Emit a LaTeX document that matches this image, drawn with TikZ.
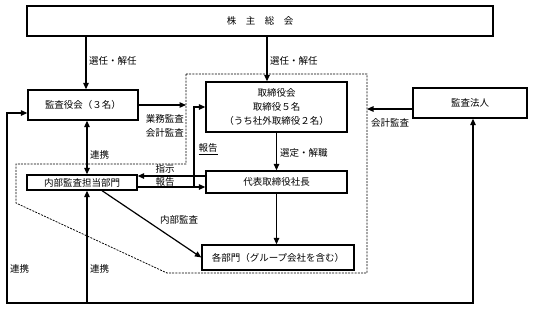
\documentclass[tikz,border=0pt]{standalone}
\usepackage{fontspec}
\setmainfont{Noto Sans CJK JP}
\usetikzlibrary{arrows.meta,calc}
\begin{document}
\begin{tikzpicture}[x=1pt,y=-1pt,
  font=\fontsize{9.5}{14}\selectfont,
  box/.style={draw,line width=1.3pt,inner sep=0pt,align=center},
  arr/.style={line width=1.2pt,-{Triangle[length=6.5pt,width=5.5pt]}},
  dbl/.style={line width=1.2pt,{Triangle[length=6.5pt,width=5.5pt]}-{Triangle[length=6.5pt,width=5.5pt]}},
  dsh/.style={line width=0.75pt,dash pattern=on 2pt off 1.2pt},
  lbl/.style={inner sep=0pt}]
\useasboundingbox (0,0) rectangle (533,309);
% boxes
\node[box,minimum width=466pt,minimum height=30pt] (agm) at (260,21) {株　主　総　会};
\node[box,minimum width=110pt,minimum height=30pt] (kansa) at (83,105) {監査役会（３名）};
\node[box,minimum width=141pt,minimum height=50pt] (board) at (276.5,107) {取締役会\\取締役５名\\（うち社外取締役２名）};
\node[box,minimum width=114pt,minimum height=30pt] (houjin) at (470,103) {監査法人};
\node[box,minimum width=110pt,minimum height=15pt] (naibu) at (82,182.5) {内部監査担当部門};
\node[box,minimum width=141pt,minimum height=22pt] (ceo) at (276.5,182) {代表取締役社長};
\node[box,minimum width=152pt,minimum height=25pt] (depts) at (278,257.5) {各部門（グループ会社を含む）};
% dashed region
\draw[dsh] (186,74) -- (367,74) -- (367,273) -- (167,273) -- (16,203) -- (16,164) -- (186,164) -- cycle;
% helper coordinates
\coordinate (xA) at (86,0);
\coordinate (xB) at (267,0);
\coordinate (xL) at (87,0);
\coordinate (xR) at (473,0);
\coordinate (dL) at (186,105);
\coordinate (dR) at (367,109);
\coordinate (br) at (194,187);
\coordinate (bj) at (87,303);
\coordinate (bl) at (7,303);
% arrows
\draw[arr] (agm.south -| xA) -- (kansa.north -| xA);
\draw[arr] (agm.south -| xB) -- (board.north -| xB);
\draw[arr] (kansa.east) -- (dL);
\draw[arr] (houjin.west |- dR) -- (dR);
\draw[dbl] (kansa.south -| xL) -- (naibu.north -| xL);
\draw[arr] (board.south) -- (ceo.north);
\draw[arr] (ceo.south) -- (depts.north -| ceo.south);
\draw[arr] ([yshift=6pt]ceo.west) -- ([yshift=6pt]ceo.west -| naibu.east);
\draw[arr] ([yshift=-4.5pt]naibu.east) -- ([yshift=-4.5pt]naibu.east -| ceo.west);
\draw[arr] (br) |- (board.west);
\draw[arr] ([xshift=20pt]naibu.south) -- (depts.west);
\draw[arr] (bj) -- (naibu.south -| bj);
\draw[arr] (bj) -- (bl) |- ([yshift=-8pt]kansa.west);
\draw[arr] (bj) -| (houjin.south -| xR);
% labels
\node[lbl,anchor=west] (l1) at (89,61) {選任・解任};
\node[lbl,anchor=west] (l2) at (270,61) {選任・解任};
\node[lbl,anchor=east,align=right] (l3) at (184,126) {業務監査\\会計監査};
\node[lbl,anchor=west] (l4) at (371,123) {会計監査};
\node[lbl,anchor=west] (l5) at (90,155) {連携};
\node[lbl] (l6) at (208,149) {\underline{報告}};
\node[lbl,anchor=west] (l7) at (280,153) {選定・解職};
\node[lbl] (l8) at (165,169) {指示};
\node[lbl] (l9) at (165,182) {報告};
\node[lbl,anchor=west] (l10) at (160,220) {内部監査};
\node[lbl,anchor=west] (l11) at (10,269) {連携};
\node[lbl,anchor=west] (l12) at (90,269) {連携};
\end{tikzpicture}
\end{document}
